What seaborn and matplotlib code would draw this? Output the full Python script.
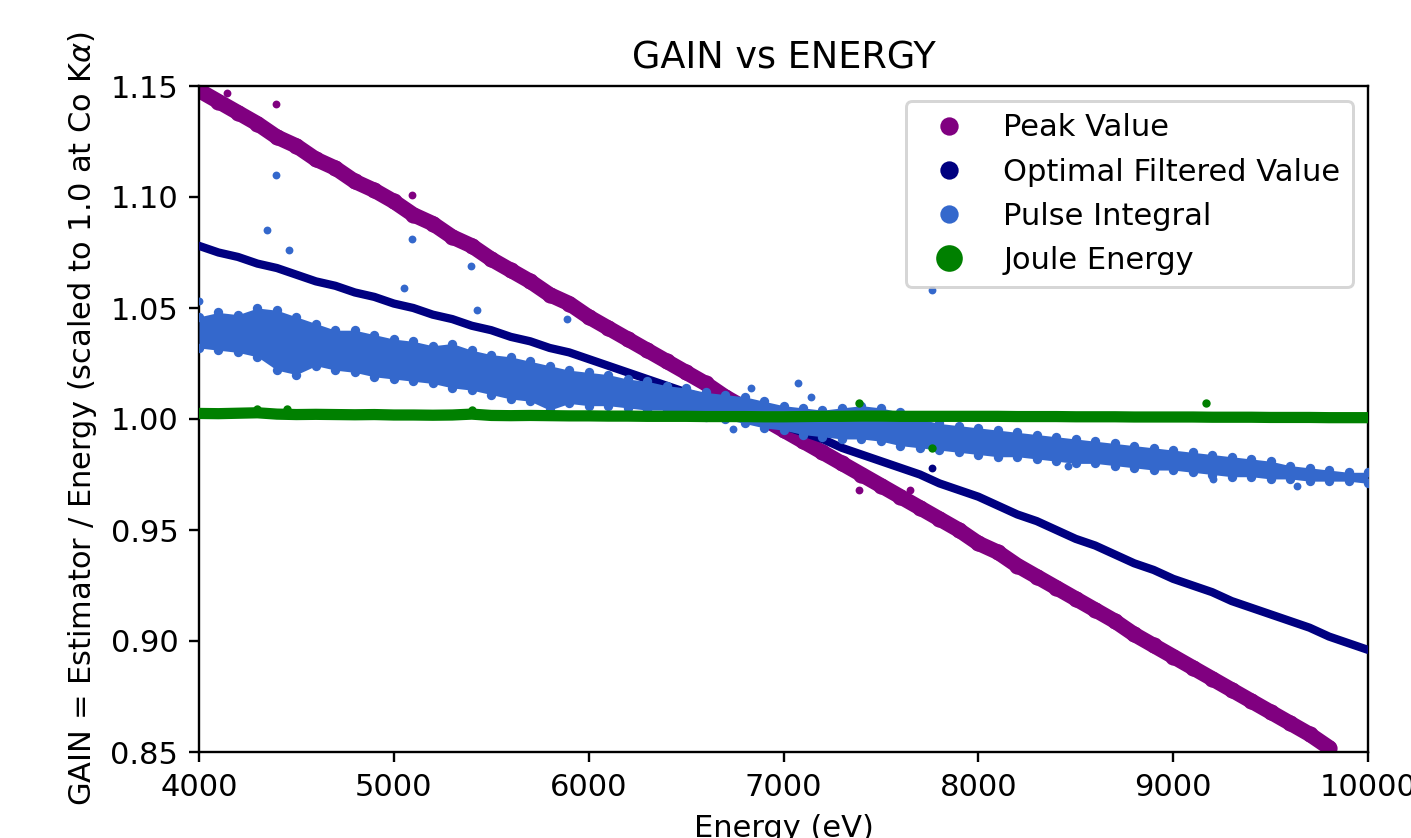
import numpy as np
import matplotlib
matplotlib.use("Agg")
import matplotlib.pyplot as plt
from matplotlib.lines import Line2D
import seaborn as sns

# ---------------- data ----------------
energy_ev = [4000, 4100, 4200, 4300, 4400, 4500, 4600, 4700, 4800, 4900,
             5000, 5100, 5200, 5300, 5400, 5500, 5600, 5700, 5800, 5900,
             6000, 6100, 6200, 6300, 6400, 6500, 6600, 6700, 6800, 6900,
             7000, 7100, 7200, 7300, 7400, 7500, 7600, 7700, 7800, 7900,
             8000, 8100, 8200, 8300, 8400, 8500, 8600, 8700, 8800, 8900,
             9000, 9100, 9200, 9300, 9400, 9500, 9600, 9700, 9800, 9900,
             10000]

peak_value = [1.148, 1.143, 1.138, 1.133, 1.127, 1.123, 1.117, 1.113, 1.107, 1.103,
              1.098, 1.092, 1.088, 1.082, 1.078, 1.072, 1.067, 1.062, 1.056, 1.052,
              1.046, 1.041, 1.036, 1.031, 1.026, 1.021, 1.016, 1.010, 1.005, 1.000,
              0.995, 0.990, 0.985, 0.980, 0.975, 0.970, 0.965, 0.960, 0.955, 0.950,
              0.944, 0.940, 0.934, 0.929, 0.924, 0.919, 0.914, 0.909, 0.903, 0.898,
              0.893, 0.888, 0.883, 0.878, 0.873, 0.868, 0.863, 0.858, 0.852, np.nan,
              np.nan]

optimal_filtered = [1.078, 1.075, 1.073, 1.070, 1.068, 1.065, 1.062, 1.060, 1.057, 1.055,
                    1.052, 1.050, 1.047, 1.045, 1.042, 1.040, 1.037, 1.035, 1.032, 1.030,
                    1.027, 1.024, 1.021, 1.018, 1.015, 1.012, 1.009, 1.006, 1.003, 1.000,
                    0.997, 0.994, 0.991, 0.987, 0.984, 0.981, 0.978, 0.975, 0.971, 0.968,
                    0.965, 0.961, 0.957, 0.954, 0.950, 0.946, 0.943, 0.939, 0.935, 0.932,
                    0.928, 0.925, 0.922, 0.918, 0.915, 0.912, 0.909, 0.906, 0.902, 0.899,
                    0.896]

pulse_integral_upper = [1.046, 1.048, 1.047, 1.050, 1.049, 1.046, 1.043, 1.040, 1.040, 1.038,
                        1.036, 1.035, 1.033, 1.034, 1.031, 1.029, 1.028, 1.026, 1.024, 1.022,
                        1.021, 1.020, 1.018, 1.017, 1.015, 1.014, 1.012, 1.011, 1.010, 1.008,
                        1.006, 1.005, 1.004, 1.005, 1.006, 1.005, 1.003, 1.000, 0.998, 0.997,
                        0.996, 0.995, 0.994, 0.993, 0.992, 0.991, 0.990, 0.989, 0.988, 0.987,
                        0.986, 0.985, 0.984, 0.983, 0.982, 0.981, 0.979, 0.978, 0.977, 0.976,
                        0.976]

pulse_integral_lower = [1.032, 1.031, 1.030, 1.028, 1.022, 1.020, 1.024, 1.022, 1.021, 1.019,
                        1.018, 1.017, 1.016, 1.014, 1.013, 1.011, 1.009, 1.008, 1.004, 1.007,
                        1.006, 1.006, 1.005, 1.004, 1.004, 1.003, 1.001, 1.000, 0.998, 0.996,
                        0.995, 0.993, 0.992, 0.991, 0.991, 0.990, 0.988, 0.987, 0.986, 0.985,
                        0.984, 0.983, 0.983, 0.982, 0.981, 0.980, 0.980, 0.979, 0.978, 0.977,
                        0.977, 0.976, 0.975, 0.974, 0.974, 0.973, 0.973, 0.972, 0.972, 0.972,
                        0.971]

joule_energy = [1.0025, 1.0024, 1.0026, 1.0028, 1.0022, 1.0020, 1.0021, 1.0020, 1.0019, 1.0020,
                1.0018, 1.0018, 1.0017, 1.0018, 1.0022, 1.0016, 1.0015, 1.0016, 1.0015, 1.0014,
                1.0014, 1.0013, 1.0013, 1.0012, 1.0012, 1.0012, 1.0011, 1.0011, 1.0011, 1.0010,
                1.0010, 1.0011, 1.0012, 1.0012, 1.0013, 1.0013, 1.0012, 1.0012, 1.0012, 1.0012,
                1.0012, 1.0012, 1.0011, 1.0011, 1.0011, 1.0010, 1.0010, 1.0010, 1.0009, 1.0009,
                1.0009, 1.0009, 1.0008, 1.0008, 1.0008, 1.0007, 1.0007, 1.0007, 1.0006, 1.0006,
                1.0006]

# isolated points away from the bands
pi_out_e = [4000, 4349, 4395, 4462, 5052, 5094, 5396, 5428, 5889, 6741, 6833, 7075,
            7141, 7762, 8461, 9205, 9636]
pi_out_v = [1.053, 1.085, 1.110, 1.076, 1.059, 1.081, 1.069, 1.049, 1.045, 0.9955,
            1.014, 1.016, 1.010, 1.058, 0.979, 0.973, 0.970]
pv_out_e = [4144, 4395, 5094, 7387, 7650]
pv_out_v = [1.147, 1.142, 1.101, 0.968, 0.968]
je_out_e = [4300, 4450, 5400, 7387, 7762, 9169]
je_out_v = [1.0045, 1.0045, 1.0040, 1.007, 0.987, 1.007]
of_out_e = [7762]
of_out_v = [0.978]

labels = ["Peak Value", "Optimal Filtered Value", "Pulse Integral", "Joule Energy"]
colors = ["#800080", "#000080", "#3468cc", "#008000"]

# ---------------- style ----------------
sns.set_style("ticks")
BASE = 10.3
plt.rcParams.update({
    "font.family": ["DejaVu Sans"],
    "font.size": BASE,
    "axes.edgecolor": "black",
    "axes.linewidth": 0.8,
    "axes.labelcolor": "black",
    "text.color": "black",
    "xtick.color": "black",
    "ytick.color": "black",
    "xtick.major.size": 3.5,
    "ytick.major.size": 3.5,
    "xtick.major.width": 0.8,
    "ytick.major.width": 0.8,
    "xtick.labelsize": BASE,
    "ytick.labelsize": BASE,
    "axes.titlesize": BASE * 1.2,
    "axes.labelsize": BASE,
    "legend.fontsize": BASE,
})

DPI = 213
fig = plt.figure(figsize=(1411 / DPI, 838 / DPI), dpi=DPI)
ax = fig.add_axes([199 / 1411, 86 / 838, 1169 / 1411, 666 / 838])

# Peak Value band
sns.lineplot(x=energy_ev, y=peak_value, color=colors[0], linewidth=5.2,
             errorbar=None, ax=ax, zorder=2)
sns.scatterplot(x=energy_ev, y=peak_value, color=colors[0], s=30, linewidth=0,
                ax=ax, zorder=2)
sns.scatterplot(x=pv_out_e, y=pv_out_v, color=colors[0], s=7, linewidth=0,
                ax=ax, zorder=2)

# Optimal Filtered Value band
sns.lineplot(x=energy_ev, y=optimal_filtered, color=colors[1], linewidth=2.8,
             errorbar=None, ax=ax, zorder=3)
sns.scatterplot(x=of_out_e, y=of_out_v, color=colors[1], s=7, linewidth=0,
                ax=ax, zorder=3)

# Pulse Integral band
ax.fill_between(energy_ev, pulse_integral_lower, pulse_integral_upper,
                color=colors[2], linewidth=0, zorder=4)
sns.scatterplot(x=energy_ev, y=pulse_integral_upper, color=colors[2], s=10,
                linewidth=0, ax=ax, zorder=4)
sns.scatterplot(x=energy_ev, y=pulse_integral_lower, color=colors[2], s=10,
                linewidth=0, ax=ax, zorder=4)
sns.scatterplot(x=pi_out_e, y=pi_out_v, color=colors[2], s=7, linewidth=0,
                ax=ax, zorder=4)

# Joule Energy band
sns.lineplot(x=energy_ev, y=joule_energy, color=colors[3], linewidth=3.8,
             errorbar=None, ax=ax, zorder=5)
sns.scatterplot(x=je_out_e, y=je_out_v, color=colors[3], s=8, linewidth=0,
                ax=ax, zorder=5)

ax.set_xlim(4000, 10000)
ax.set_ylim(0.85, 1.15)
ax.set_xticks([4000, 5000, 6000, 7000, 8000, 9000, 10000])
ax.set_yticks([0.85, 0.90, 0.95, 1.00, 1.05, 1.10, 1.15])
ax.set_yticklabels(["0.85", "0.90", "0.95", "1.00", "1.05", "1.10", "1.15"])
for side in ["top", "right", "bottom", "left"]:
    ax.spines[side].set_visible(True)
    ax.spines[side].set_color("black")

ax.set_title("GAIN vs ENERGY")
ax.set_xlabel("Energy (eV)")
ax.set_ylabel(r"GAIN = Estimator / Energy (scaled to 1.0 at Co K$\alpha$)")

handles = [
    Line2D([], [], linestyle="", marker="o", markersize=6.2, color=colors[0], markeredgewidth=0),
    Line2D([], [], linestyle="", marker="o", markersize=6.2, color=colors[1], markeredgewidth=0),
    Line2D([], [], linestyle="", marker="o", markersize=6.2, color=colors[2], markeredgewidth=0),
    Line2D([], [], linestyle="", marker="o", markersize=9.0, color=colors[3], markeredgewidth=0),
]
leg = ax.legend(handles, labels, loc="upper right", frameon=True, fancybox=True)
leg.get_frame().set_edgecolor("#cccccc")
leg.get_frame().set_alpha(0.8)
leg.set_zorder(10)

fig.savefig("out.png", dpi=DPI)
